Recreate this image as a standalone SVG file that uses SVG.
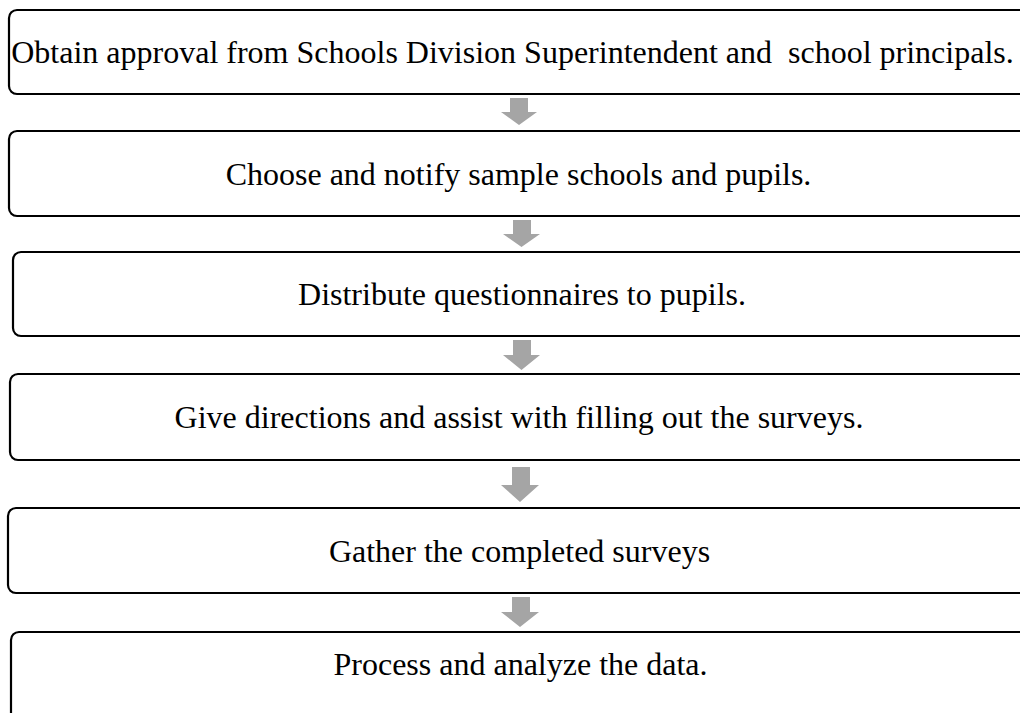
<svg xmlns="http://www.w3.org/2000/svg" width="1020" height="713" viewBox="0 0 1020 713">
  <style>
    .box { fill: #ffffff; stroke: #000000; stroke-width: 2.2; }
    .label { font-family: "Liberation Serif", "Times New Roman", serif; font-size: 32px; fill: #000000; text-anchor: middle; white-space: pre; }
    .flow { fill: #a5a5a5; stroke: none; }
  </style>
  <rect width="1020" height="713" fill="#ffffff"/>

  <!-- process steps -->
  <g id="step1">
    <rect class="box" x="9" y="10" width="1030" height="84" rx="8"/>
    <text class="label" x="512.5" y="63" xml:space="preserve">Obtain approval from Schools Division Superintendent and  school principals.</text>
  </g>
  <g id="step2">
    <rect class="box" x="9" y="131" width="1030" height="85" rx="8"/>
    <text class="label" x="518.5" y="185">Choose and notify sample schools and pupils.</text>
  </g>
  <g id="step3">
    <rect class="box" x="13" y="252" width="1030" height="84" rx="8"/>
    <text class="label" x="522" y="305">Distribute questionnaires to pupils.</text>
  </g>
  <g id="step4">
    <rect class="box" x="10" y="374" width="1030" height="86" rx="8"/>
    <text class="label" x="519" y="428">Give directions and assist with filling out the surveys.</text>
  </g>
  <g id="step5">
    <rect class="box" x="8" y="508" width="1030" height="85" rx="8"/>
    <text class="label" x="519.5" y="562">Gather the completed surveys</text>
  </g>
  <g id="step6">
    <rect class="box" x="11" y="632" width="1030" height="90" rx="8"/>
    <text class="label" x="520.5" y="675">Process and analyze the data.</text>
  </g>

  <!-- block arrows between steps -->
  <g id="connectors">
    <polygon class="flow" points="510,98 528,98 528,112 537,112 519,125 501,112 510,112"/>
    <polygon class="flow" points="513,220 531,220 531,234 540,234 521.5,247 503,234 513,234"/>
    <polygon class="flow" points="513,340 531,340 531,355 540,355 521.5,370 503,355 513,355"/>
    <polygon class="flow" points="512,467 530,467 530,485 539,485 520,502 501,485 512,485"/>
    <polygon class="flow" points="512,597 530,597 530,612 539,612 520,627 501,612 512,612"/>
  </g>
</svg>
